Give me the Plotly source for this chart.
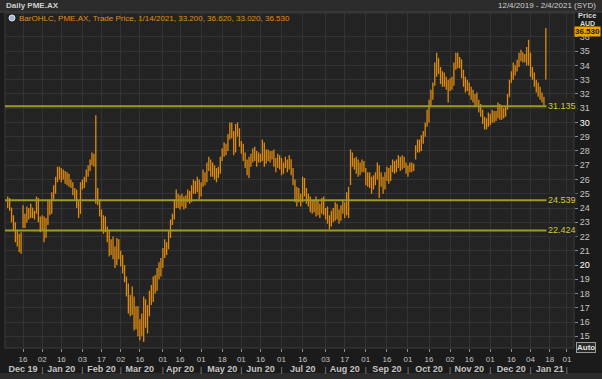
import pandas as pd
import plotly.graph_objects as go

# ---------------- data ----------------
start_date = "2019-12-04"
end_date = "2021-01-14"
holidays = ["2019-12-25", "2019-12-26", "2020-01-01", "2020-01-27", "2020-04-10",
            "2020-04-13", "2020-06-08", "2020-12-25", "2020-12-28", "2021-01-01",
            "2021-01-26"]

opens = [
    24.2, 24.6, 24.0, 23.2, 22.7, 21.9, 22.1, 21.1, 22.8, 23.5,
    23.0, 23.8, 23.4, 24.0, 23.5, 23.7, 24.6, 23.2, 22.6, 23.2,
    22.0, 23.0, 24.3, 23.8, 24.9, 25.3, 26.0, 26.7, 26.2, 26.5,
    26.2, 25.9, 26.3, 25.7, 25.6, 25.0, 24.8, 24.2, 23.6, 25.6,
    25.7, 26.0, 26.6, 26.8, 27.3, 27.6, 27.5, 25.2, 24.5, 23.7,
    22.8, 23.2, 22.6, 22.0, 21.0, 21.5, 20.8, 20.2, 21.5, 20.7,
    20.3, 19.6, 19.0, 18.0, 17.0, 17.6, 16.8, 15.8, 16.6, 15.4,
    15.6, 15.3, 17.2, 16.0, 16.8, 17.8, 17.5, 18.8, 18.3, 19.5,
    19.3, 20.3, 20.9, 21.5, 21.2, 22.2, 22.9, 23.4, 24.3, 24.8,
    24.3, 24.6, 24.4, 24.2, 24.7, 25.1, 24.5, 25.4, 25.8, 25.3,
    25.9, 25.0, 25.6, 26.4, 25.9, 27.0, 27.3, 26.5, 26.9, 26.3,
    26.6, 26.5, 27.4, 28.0, 28.3, 28.1, 29.0, 29.6, 29.2, 28.0,
    29.5, 29.2, 28.6, 28.0, 27.6, 27.1, 26.6, 27.3, 27.5, 27.9,
    27.6, 27.8, 27.4, 27.6, 28.4, 27.2, 27.9, 27.6, 27.8, 27.5,
    27.0, 27.2, 27.5, 27.0, 26.6, 27.0, 27.3, 26.8, 27.4, 26.6,
    25.9, 24.8, 25.2, 24.7, 24.5, 26.0, 25.1, 24.6, 24.4, 24.0,
    24.2, 23.9, 24.5, 23.8, 24.0, 24.4, 23.7, 23.5, 23.2, 22.8,
    23.5, 23.3, 24.0, 23.5, 23.2, 23.9, 24.1, 23.6, 24.9, 25.7,
    27.6, 27.2, 27.0, 26.7, 26.5, 26.9, 27.2, 26.7, 25.9, 26.2,
    25.6, 25.4, 26.0, 26.2, 26.9, 26.3, 25.8, 25.5, 26.2, 26.6,
    26.0, 26.8, 27.1, 26.7, 27.2, 27.4, 26.9, 27.5, 27.0, 26.6,
    26.8, 27.0, 26.8, 27.5, 28.1, 28.6, 28.2, 28.9, 29.2, 29.8,
    30.7, 31.3, 32.0, 32.6, 33.8, 34.5, 33.7, 33.0, 33.3, 32.8,
    32.6, 32.3, 32.9, 32.6, 34.0, 34.5, 34.1, 34.4, 33.4, 32.8,
    32.5, 32.7, 32.1, 32.2, 31.6, 31.9, 31.4, 30.9, 30.8, 30.1,
    29.8, 30.1, 30.4, 30.0, 30.6, 30.3, 30.5, 31.1, 30.5, 30.8,
    30.6, 31.0, 31.8, 32.8, 33.3, 34.0, 33.6, 34.2, 34.6, 34.9,
    34.4, 34.6, 34.8, 34.3, 33.5, 33.3, 32.8, 32.3, 32.0, 31.8,
    31.6, 33.2,
]
highs = [
    24.8, 24.7, 24.0, 23.5, 23.0, 22.4, 22.2, 22.3, 24.2, 23.6,
    24.1, 24.0, 24.3, 24.0, 23.8, 24.8, 24.7, 23.4, 23.5, 23.4,
    23.3, 24.6, 24.5, 25.1, 25.6, 26.2, 26.9, 26.9, 26.8, 26.7,
    26.6, 26.5, 26.4, 26.0, 25.8, 25.4, 25.3, 24.5, 25.8, 26.0,
    26.2, 26.7, 27.0, 27.4, 27.9, 27.8, 30.5, 25.4, 24.6, 23.9,
    23.5, 23.4, 22.7, 22.5, 21.8, 22.0, 21.3, 21.9, 21.8, 21.0,
    20.7, 20.0, 19.2, 18.7, 17.9, 18.5, 17.8, 17.1, 17.1, 16.2,
    16.6, 17.8, 17.6, 17.2, 18.2, 18.6, 19.2, 19.3, 19.8, 20.2,
    20.5, 21.2, 21.8, 21.6, 22.4, 23.2, 23.6, 24.6, 25.3, 25.0,
    24.9, 25.0, 24.8, 24.9, 25.3, 25.2, 25.6, 26.0, 25.9, 26.2,
    26.0, 25.8, 26.7, 26.5, 27.2, 27.6, 27.4, 27.2, 27.0, 26.8,
    26.9, 27.6, 28.2, 28.6, 28.5, 29.2, 30.0, 30.0, 29.4, 29.9,
    30.0, 29.6, 28.7, 28.5, 27.9, 27.4, 27.6, 27.8, 28.2, 28.3,
    28.0, 27.9, 27.8, 28.8, 28.6, 28.1, 28.1, 28.0, 28.0, 28.1,
    27.5, 27.8, 27.7, 27.5, 27.2, 27.6, 27.4, 27.7, 27.4, 26.8,
    26.0, 25.5, 25.4, 25.0, 26.2, 26.1, 25.4, 25.0, 24.8, 24.5,
    24.6, 24.8, 24.5, 24.3, 24.7, 24.8, 24.0, 24.1, 23.5, 23.8,
    24.0, 24.4, 24.3, 23.9, 24.2, 24.6, 24.4, 25.1, 25.5, 28.1,
    27.9, 27.5, 27.6, 27.4, 27.2, 27.4, 27.3, 26.8, 26.5, 26.5,
    26.2, 26.3, 26.5, 27.2, 27.0, 26.5, 26.2, 26.5, 26.9, 26.8,
    27.0, 27.4, 27.3, 27.4, 27.7, 27.6, 27.7, 27.6, 27.2, 27.0,
    27.2, 27.2, 27.1, 28.4, 28.8, 28.8, 29.1, 29.4, 30.0, 30.9,
    31.6, 32.3, 32.8, 34.2, 34.9, 34.5, 33.9, 33.6, 33.5, 33.2,
    33.0, 33.1, 33.2, 34.2, 34.9, 34.9, 34.6, 34.4, 33.7, 33.2,
    33.0, 32.8, 32.5, 32.3, 32.0, 32.1, 31.6, 31.3, 30.9, 30.4,
    30.3, 30.7, 30.6, 30.9, 30.8, 30.8, 31.4, 31.3, 31.1, 31.0,
    31.1, 32.0, 33.0, 33.6, 34.2, 34.0, 34.4, 34.9, 35.1, 34.9,
    34.8, 35.3, 35.8, 34.9, 33.9, 33.5, 33.0, 32.8, 32.5, 32.1,
    31.8, 36.62,
]
lows = [
    24.0, 23.8, 23.0, 22.4, 21.6, 21.3, 20.9, 20.8, 22.6, 22.6,
    23.0, 23.2, 23.3, 23.3, 23.2, 23.6, 23.0, 22.3, 22.4, 21.6,
    21.9, 22.8, 23.5, 23.6, 24.6, 25.0, 25.8, 26.0, 25.8, 26.0,
    25.7, 25.6, 25.5, 25.4, 24.9, 24.6, 24.0, 23.3, 23.6, 25.3,
    25.4, 25.8, 26.2, 26.6, 27.0, 26.9, 24.3, 24.2, 23.4, 22.4,
    22.2, 22.3, 21.6, 20.6, 20.7, 20.4, 19.8, 20.0, 20.4, 19.9,
    19.4, 18.8, 17.8, 16.6, 16.4, 16.5, 15.4, 15.5, 15.0, 14.7,
    15.0, 14.6, 15.6, 15.2, 16.4, 17.2, 17.4, 18.0, 18.2, 19.0,
    19.2, 19.8, 20.5, 20.7, 21.1, 21.9, 22.8, 23.2, 24.0, 24.0,
    23.9, 24.1, 23.9, 24.0, 24.4, 24.3, 24.4, 25.0, 25.0, 25.1,
    24.6, 24.8, 25.5, 25.6, 25.8, 26.6, 26.2, 26.2, 26.0, 25.8,
    26.1, 26.4, 27.3, 27.6, 27.7, 28.0, 28.8, 28.9, 27.7, 27.9,
    29.0, 28.3, 27.8, 27.3, 26.8, 26.3, 26.1, 26.9, 27.2, 27.3,
    26.9, 27.2, 27.2, 27.3, 26.9, 27.1, 27.3, 27.2, 27.4, 26.9,
    26.5, 26.8, 26.7, 26.3, 26.4, 26.8, 26.5, 26.7, 26.3, 25.6,
    24.4, 24.1, 24.4, 24.1, 24.4, 24.8, 24.3, 24.1, 23.7, 23.6,
    23.7, 23.4, 23.5, 23.3, 23.6, 23.5, 23.2, 22.9, 22.5, 22.7,
    23.0, 23.1, 23.2, 22.9, 23.1, 23.6, 23.3, 23.5, 23.3, 25.6,
    26.9, 26.7, 26.4, 26.2, 26.3, 26.5, 26.5, 25.6, 25.5, 25.4,
    25.0, 25.3, 25.6, 26.0, 24.7, 25.5, 25.0, 25.3, 25.9, 25.7,
    25.9, 26.5, 26.4, 26.5, 26.8, 26.6, 26.7, 26.8, 26.4, 26.2,
    26.5, 26.5, 26.6, 27.4, 27.9, 27.9, 28.0, 28.5, 29.0, 29.7,
    30.0, 31.1, 31.6, 32.6, 33.2, 33.4, 32.7, 32.5, 32.5, 32.3,
    31.4, 32.2, 32.3, 32.6, 33.7, 33.8, 33.8, 33.1, 32.5, 32.1,
    32.2, 31.9, 31.6, 31.4, 31.1, 31.2, 30.7, 30.4, 29.9, 29.5,
    29.5, 29.7, 29.8, 30.0, 30.0, 30.1, 30.3, 30.2, 30.2, 30.3,
    30.4, 30.9, 31.8, 32.8, 33.0, 33.3, 33.6, 33.9, 34.3, 34.2,
    34.2, 34.0, 34.0, 33.2, 33.0, 32.5, 32.1, 31.8, 31.6, 31.4,
    31.2, 33.02,
]
closes = [
    24.6, 24.0, 23.2, 22.7, 21.9, 22.1, 21.1, 22.0, 23.6, 22.8,
    23.8, 23.4, 24.0, 23.5, 23.7, 24.6, 23.2, 22.6, 23.2, 22.0,
    23.0, 24.3, 23.8, 24.9, 25.3, 26.0, 26.7, 26.2, 26.5, 26.2,
    25.9, 26.3, 25.7, 25.6, 25.0, 24.8, 24.2, 23.6, 25.6, 25.7,
    26.0, 26.6, 26.8, 27.3, 27.6, 27.2, 28.5, 24.5, 23.7, 22.8,
    23.2, 22.6, 22.0, 21.0, 21.5, 20.8, 20.2, 21.5, 20.7, 20.3,
    19.6, 19.0, 18.0, 17.0, 17.6, 16.8, 15.8, 16.6, 15.4, 15.6,
    15.3, 17.2, 16.0, 16.8, 17.8, 17.5, 18.8, 18.3, 19.5, 19.3,
    20.3, 20.9, 21.5, 21.2, 22.2, 22.9, 23.4, 24.3, 24.8, 24.3,
    24.6, 24.4, 24.2, 24.7, 25.1, 24.5, 25.4, 25.8, 25.3, 25.9,
    25.0, 25.6, 26.4, 25.9, 27.0, 27.3, 26.5, 26.9, 26.3, 26.6,
    26.5, 27.4, 28.0, 28.3, 28.1, 29.0, 29.6, 29.2, 28.0, 29.5,
    29.2, 28.6, 28.0, 27.6, 27.1, 26.6, 27.3, 27.5, 27.9, 27.6,
    27.8, 27.4, 27.6, 28.4, 27.2, 27.9, 27.6, 27.8, 27.5, 27.0,
    27.2, 27.5, 27.0, 26.6, 27.0, 27.3, 26.8, 27.4, 26.6, 25.9,
    24.8, 25.2, 24.7, 24.5, 26.0, 25.1, 24.6, 24.4, 24.0, 24.2,
    23.9, 24.5, 23.8, 24.0, 24.4, 23.7, 23.5, 23.2, 22.8, 23.5,
    23.3, 24.0, 23.5, 23.2, 23.9, 24.1, 23.6, 24.9, 25.2, 27.6,
    27.2, 27.0, 26.7, 26.5, 26.9, 27.2, 26.7, 25.9, 26.2, 25.6,
    25.4, 26.0, 26.2, 26.9, 26.3, 25.8, 25.5, 26.2, 26.6, 26.0,
    26.8, 27.1, 26.7, 27.2, 27.4, 26.9, 27.5, 27.0, 26.6, 26.8,
    27.0, 26.8, 26.9, 28.1, 28.6, 28.2, 28.9, 29.2, 29.8, 30.7,
    31.3, 32.0, 32.6, 33.8, 34.5, 33.7, 33.0, 33.3, 32.8, 32.6,
    32.3, 32.9, 32.5, 34.0, 34.5, 34.1, 34.4, 33.4, 32.8, 32.5,
    32.7, 32.1, 32.2, 31.6, 31.9, 31.4, 30.9, 30.8, 30.1, 29.8,
    30.1, 30.4, 30.0, 30.6, 30.3, 30.5, 31.1, 30.5, 30.8, 30.6,
    30.9, 31.8, 32.8, 33.3, 34.0, 33.6, 34.2, 34.6, 34.9, 34.4,
    34.6, 34.8, 34.3, 33.5, 33.3, 32.8, 32.3, 32.0, 31.8, 31.6,
    31.4, 36.53,
]

levels = [31.135, 24.539, 22.424]
level_labels = ["31.135", "24.539", "22.424"]

tick_dates = ["2019-12-16", "2020-01-02", "2020-01-16", "2020-02-03", "2020-02-17",
              "2020-03-02", "2020-03-16", "2020-04-01", "2020-04-16", "2020-05-01",
              "2020-05-18", "2020-06-01", "2020-06-16", "2020-07-01", "2020-07-16",
              "2020-08-03", "2020-08-17", "2020-09-01", "2020-09-16", "2020-10-01",
              "2020-10-16", "2020-11-02", "2020-11-16", "2020-12-01", "2020-12-16",
              "2021-01-04", "2021-01-18", "2021-02-01"]
tick_days = ["16", "02", "16", "03", "17", "02", "16", "01", "16", "01", "18", "01", "16",
             "01", "16", "03", "17", "01", "16", "01", "16", "02", "16", "01", "16", "04",
             "18", "01"]
tick_months = ["Dec 19", "|", "Jan 20", "|", "Feb 20", "|", "Mar 20", "|", "Apr 20", "|",
               "May 20", "|", "Jun 20", "|", "Jul 20", "|", "Aug 20", "|", "Sep 20", "|",
               "Oct 20", "|", "Nov 20", "|", "Dec 20", "|", "Jan 21", "|"]
price_ticks = list(range(15, 37))

# ---------------- figure ----------------
FONT = "Liberation Sans"
BAR = "#DC8A10"
LEVEL = "#9E9A22"
LEVEL_TXT = "#CFCB3A"
PLOT_BG = "#232323"
PAPER_BG = "#1b1b1b"
GRID = "#333333"
TXT = "#c4c4c4"

dates = pd.bdate_range(start_date, end_date)
dates = dates[~dates.isin(pd.to_datetime(holidays))]
n = min(len(dates), len(opens), len(highs), len(lows), len(closes))
dates = dates[:n]

fig = go.Figure(go.Ohlc(
    x=dates, open=opens[:n], high=highs[:n], low=lows[:n], close=closes[:n],
    increasing=dict(line=dict(color=BAR, width=1.3)),
    decreasing=dict(line=dict(color=BAR, width=1.3)),
    tickwidth=0.35, hoverinfo="skip",
))

ticktext = []
for d, m in zip(tick_days, tick_months):
    if m == "|":
        ticktext.append(f"{d}<br><span style='color:#9a9a9a'>|</span>")
    else:
        ticktext.append(f"{d}<br><b><span style='font-size:9px'>{m}</span></b>")

ytext = []
for v in price_ticks:
    if v % 10 == 0:
        ytext.append(f"<span style='color:#ffffff'>{v}</span>")
    else:
        ytext.append(str(v))

W, H = 602, 379
ML, MR, MT, MB = 5, 28, 13, 31
pw, ph = W - ML - MR, H - MT - MB


def px(x):
    return (x - ML) / pw


def py(y):
    return 1 - (y - MT) / ph


shapes = []
# header bar
shapes.append(dict(type="rect", xref="paper", yref="paper", x0=px(0), x1=px(W), y0=py(12),
                   y1=py(0), fillcolor="#2c2c2c", line=dict(width=0), layer="below"))
shapes.append(dict(type="line", xref="paper", yref="paper", x0=px(0), x1=px(W), y0=py(12),
                   y1=py(12), line=dict(color="#444444", width=1)))
# bottom strip
shapes.append(dict(type="rect", xref="paper", yref="paper", x0=px(0), x1=px(W), y0=py(H),
                   y1=py(H - 6), fillcolor="#2c2c2c", line=dict(width=0), layer="below"))
# plot frame
shapes.append(dict(type="rect", xref="paper", yref="paper", x0=0, x1=1, y0=0, y1=1,
                   line=dict(color="#3c3c3c", width=1)))
for lv in levels:
    shapes.append(dict(type="line", xref="paper", yref="y", x0=0, x1=1, y0=lv, y1=lv,
                       line=dict(color=LEVEL, width=2)))
# legend icon
shapes.append(dict(type="circle", xref="paper", yref="paper", x0=px(9), x1=px(15), y0=py(21),
                   y1=py(15), fillcolor="#9fb8d8", line=dict(color="#e0e0e0", width=1)))

annotations = []
for lv, lab in zip(levels, level_labels):
    annotations.append(dict(xref="paper", yref="y", x=px(562), y=lv, text=lab, showarrow=False,
                            font=dict(family=FONT, size=9, color=LEVEL_TXT),
                            bgcolor=PLOT_BG, borderpad=1, xanchor="center", yanchor="middle"))
annotations += [
    dict(xref="paper", yref="paper", x=px(4), y=py(6), text="<b>Daily PME.AX</b>",
         showarrow=False, xanchor="left", yanchor="middle",
         font=dict(family=FONT, size=8, color="#d0d0d0")),
    dict(xref="paper", yref="paper", x=px(598), y=py(6), text="12/4/2019 - 2/4/2021 (SYD)",
         showarrow=False, xanchor="right", yanchor="middle",
         font=dict(family=FONT, size=8, color="#d0d0d0")),
    dict(xref="paper", yref="paper", x=px(17), y=py(18),
         text="BarOHLC, PME.AX, Trade Price, 1/14/2021, 33.200, 36.620, 33.020, 36.530",
         showarrow=False, xanchor="left", yanchor="middle",
         font=dict(family=FONT, size=8, color="#E08E1A")),
    dict(xref="paper", yref="paper", x=px(587), y=py(16), text="<b>Price</b>",
         showarrow=False, xanchor="center", yanchor="middle",
         font=dict(family=FONT, size=7.5, color="#d8d8d8")),
    dict(xref="paper", yref="paper", x=px(587), y=py(23.5), text="<b>AUD</b>",
         showarrow=False, xanchor="center", yanchor="middle",
         font=dict(family=FONT, size=7, color="#d8d8d8")),
    dict(xref="paper", yref="paper", x=px(587), y=py(31), text="<b>36.530</b>",
         showarrow=False, xanchor="center", yanchor="middle", bgcolor="#F2A100",
         borderpad=0, font=dict(family=FONT, size=8, color="#1a1a1a")),
    dict(xref="paper", yref="paper", x=px(586), y=py(347), text="<b>Auto</b>",
         showarrow=False, xanchor="center", yanchor="middle", bgcolor="#2a2a2a",
         bordercolor="#9a9a9a", borderwidth=1, borderpad=0,
         font=dict(family=FONT, size=8, color="#e0e0e0")),
]

fig.update_layout(
    width=W, height=H,
    margin=dict(l=ML, r=MR, t=MT, b=MB, pad=0),
    paper_bgcolor=PAPER_BG, plot_bgcolor=PLOT_BG,
    showlegend=False,
    font=dict(family=FONT, size=8, color=TXT),
    shapes=shapes, annotations=annotations,
    xaxis=dict(
        type="date",
        range=["2019-12-02 14:00", "2021-02-04 17:00"],
        rangebreaks=[dict(bounds=["sat", "mon"]), dict(values=holidays)],
        rangeslider=dict(visible=False),
        tickmode="array", tickvals=tick_dates, ticktext=ticktext, tickangle=0,
        ticks="outside", ticklen=3, tickcolor="#8a8a8a",
        tickfont=dict(family=FONT, size=8, color=TXT),
        showgrid=True, gridcolor=GRID, gridwidth=1,
        zeroline=False, showline=False, fixedrange=True, automargin=False,
    ),
    yaxis=dict(
        side="right", range=[14.18, 37.68],
        tickmode="array", tickvals=price_ticks, ticktext=ytext,
        ticks="outside", ticklen=3, tickcolor="#8a8a8a",
        tickfont=dict(family=FONT, size=9, color=TXT),
        showgrid=True, gridcolor=GRID, gridwidth=1,
        zeroline=False, showline=False, fixedrange=True, automargin=False,
    ),
)

fig.write_html("out.html", config={"displayModeBar": False},
               post_script="document.body.style.margin='0px';document.body.style.overflow='hidden';")
